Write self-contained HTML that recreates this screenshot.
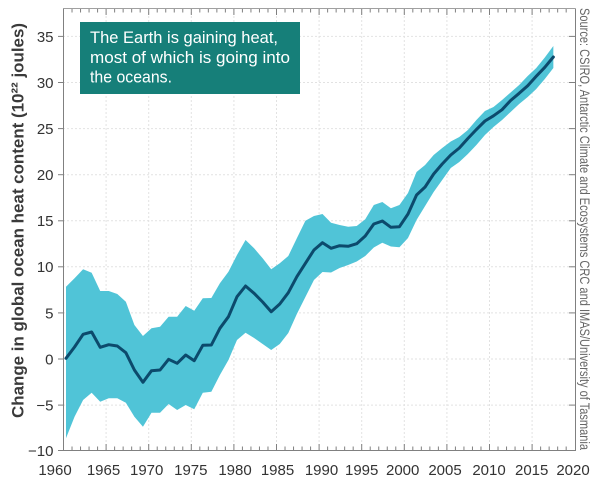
<!DOCTYPE html>
<html><head><meta charset="utf-8"><style>
html,body{margin:0;padding:0;background:#fff;}
svg{display:block;}
text{font-family:"Liberation Sans",sans-serif;}
</style></head><body>
<svg width="600" height="487" viewBox="0 0 600 487" xmlns="http://www.w3.org/2000/svg">
<rect x="0" y="0" width="600" height="487" fill="#fff"/>
<!-- grid -->
<g stroke="#e2e2e2" stroke-width="1" stroke-dasharray="2,2" fill="none">
<line x1="63" y1="405.1" x2="575" y2="405.1"/>
<line x1="63" y1="359" x2="575" y2="359"/>
<line x1="63" y1="312.9" x2="575" y2="312.9"/>
<line x1="63" y1="266.8" x2="575" y2="266.8"/>
<line x1="63" y1="220.8" x2="575" y2="220.8"/>
<line x1="63" y1="174.7" x2="575" y2="174.7"/>
<line x1="63" y1="128.6" x2="575" y2="128.6"/>
<line x1="63" y1="82.5" x2="575" y2="82.5"/>
<line x1="63" y1="36.4" x2="575" y2="36.4"/>
<line x1="106.1" y1="8" x2="106.1" y2="451"/>
<line x1="148.7" y1="8" x2="148.7" y2="451"/>
<line x1="191.3" y1="8" x2="191.3" y2="451"/>
<line x1="233.9" y1="8" x2="233.9" y2="451"/>
<line x1="276.5" y1="8" x2="276.5" y2="451"/>
<line x1="319.1" y1="8" x2="319.1" y2="451"/>
<line x1="361.7" y1="8" x2="361.7" y2="451"/>
<line x1="404.3" y1="8" x2="404.3" y2="451"/>
<line x1="446.9" y1="8" x2="446.9" y2="451"/>
<line x1="489.5" y1="8" x2="489.5" y2="451"/>
<line x1="532.1" y1="8" x2="532.1" y2="451"/>
</g>
<!-- uncertainty band -->
<polygon fill="#50c4d7" points="66,286.7 74.55,278.3 83.1,269.3 91.65,272.7 100.2,291 108.75,291 117.3,294 125.85,301.7 134.4,325 142.95,336 151.5,328.3 160.05,326.7 168.6,316.7 177.15,316.7 185.7,306 194.25,310.7 202.8,298.3 211.35,298 219.9,283.3 228.45,271.7 237,255 245.55,240 254.1,248.3 262.65,258.3 271.2,269.3 279.75,263.3 288.3,256 296.85,238.3 305.4,220.7 313.95,216 322.5,214 331.05,222.7 339.6,225 348.15,226.7 356.7,226 365.25,219.3 373.8,205 382.35,202 390.9,208.3 399.45,205 408,193 416.55,172 425.1,165 433.65,155 442.2,148 450.75,141.5 459.3,137 467.85,130 476.4,120 484.95,111 493.5,107 502.05,100 510.6,92.5 519.15,85 527.7,76 536.25,68 544.8,57.5 553.35,46 553.35,68 544.8,79 536.25,89 527.7,97 519.15,104 510.6,112 502.05,120 493.5,127 484.95,135 476.4,145 467.85,154 459.3,162 450.75,168 442.2,180 433.65,192 425.1,206 416.55,220 408,238 399.45,247.3 390.9,246.5 382.35,242.7 373.8,247.5 365.25,256 356.7,261.5 348.15,265 339.6,268 331.05,272.5 322.5,272 313.95,280 305.4,297 296.85,314 288.3,333 279.75,344 271.2,350 262.65,344 254.1,338 245.55,332.7 237,340 228.45,360 219.9,375 211.35,391.7 202.8,392.7 194.25,409.3 185.7,405 177.15,410 168.6,404 160.05,412.7 151.5,412.7 142.95,426.7 134.4,416.7 125.85,402.7 117.3,398.3 108.75,398.3 100.2,401.7 91.65,392.7 83.1,400 74.55,416.7 66,438.3"/>
<!-- central line -->
<polyline fill="none" stroke="#0c4a6c" stroke-width="3" stroke-linejoin="round" stroke-linecap="round" points="66,358.3 74.55,347 83.1,334.3 91.65,332 100.2,347.3 108.75,344.7 117.3,346 125.85,352.7 134.4,370 142.95,382.3 151.5,370.7 160.05,370 168.6,359.3 177.15,363.3 185.7,355 194.25,360.7 202.8,345.3 211.35,345 219.9,328.3 228.45,316.7 237,296.7 245.55,286 254.1,293.3 262.65,302 271.2,311.7 279.75,304 288.3,292.7 296.85,276.7 305.4,263.3 313.95,250 322.5,242.7 331.05,248.3 339.6,245.7 348.15,246.3 356.7,243.7 365.25,236 373.8,224 382.35,221 390.9,227.3 399.45,226.7 408,214 416.55,195 425.1,187 433.65,174 442.2,164 450.75,155 459.3,148 467.85,138.5 476.4,129.5 484.95,121 493.5,115.8 502.05,109.7 510.6,100.5 519.15,93.3 527.7,85.7 536.25,76.3 544.8,67.3 553.35,57"/>
<!-- axes -->
<g stroke="#808080" stroke-width="1" fill="none">
<line x1="63.5" y1="8.5" x2="63.5" y2="451"/>
<line x1="63" y1="450.5" x2="575.5" y2="450.5"/>
<line x1="575.5" y1="8.5" x2="575.5" y2="451"/>
<line x1="63" y1="8.5" x2="575.5" y2="8.5" stroke="#a0a0a0"/>
</g>
<!-- ticks -->
<g stroke="#808080" stroke-width="1">
<line x1="58" y1="450.5" x2="63" y2="450.5"/>
<line x1="58" y1="405.1" x2="63" y2="405.1"/>
<line x1="58" y1="359" x2="63" y2="359"/>
<line x1="58" y1="312.9" x2="63" y2="312.9"/>
<line x1="58" y1="266.8" x2="63" y2="266.8"/>
<line x1="58" y1="220.8" x2="63" y2="220.8"/>
<line x1="58" y1="174.7" x2="63" y2="174.7"/>
<line x1="58" y1="128.6" x2="63" y2="128.6"/>
<line x1="58" y1="82.5" x2="63" y2="82.5"/>
<line x1="58" y1="36.4" x2="63" y2="36.4"/>
<line x1="569" y1="405.1" x2="575" y2="405.1"/>
<line x1="569" y1="359" x2="575" y2="359"/>
<line x1="569" y1="312.9" x2="575" y2="312.9"/>
<line x1="569" y1="266.8" x2="575" y2="266.8"/>
<line x1="569" y1="220.8" x2="575" y2="220.8"/>
<line x1="569" y1="174.7" x2="575" y2="174.7"/>
<line x1="569" y1="128.6" x2="575" y2="128.6"/>
<line x1="569" y1="82.5" x2="575" y2="82.5"/>
<line x1="569" y1="36.4" x2="575" y2="36.4"/>
</g>
<g stroke="#808080" stroke-width="1">
<path d="M72.02 450V446.5M80.54 450V446.5M89.06 450V446.5M97.58 450V446.5M114.62 450V446.5M123.14 450V446.5M131.66 450V446.5M140.18 450V446.5M157.22 450V446.5M165.74 450V446.5M174.26 450V446.5M182.78 450V446.5M199.82 450V446.5M208.34 450V446.5M216.86 450V446.5M225.38 450V446.5M242.42 450V446.5M250.94 450V446.5M259.46 450V446.5M267.98 450V446.5M285.02 450V446.5M293.54 450V446.5M302.06 450V446.5M310.58 450V446.5M327.62 450V446.5M336.14 450V446.5M344.66 450V446.5M353.18 450V446.5M370.22 450V446.5M378.74 450V446.5M387.26 450V446.5M395.78 450V446.5M412.82 450V446.5M421.34 450V446.5M429.86 450V446.5M438.38 450V446.5M455.42 450V446.5M463.94 450V446.5M472.46 450V446.5M480.98 450V446.5M498.02 450V446.5M506.54 450V446.5M515.06 450V446.5M523.58 450V446.5M540.62 450V446.5M549.14 450V446.5M557.66 450V446.5M566.18 450V446.5"/>
<path d="M106.1 450V444M148.7 450V444M191.3 450V444M233.9 450V444M276.5 450V444M319.1 450V444M361.7 450V444M404.3 450V444M446.9 450V444M489.5 450V444M532.1 450V444"/>
<path d="M72.02 9V12.5M80.54 9V12.5M89.06 9V12.5M97.58 9V12.5M114.62 9V12.5M123.14 9V12.5M131.66 9V12.5M140.18 9V12.5M157.22 9V12.5M165.74 9V12.5M174.26 9V12.5M182.78 9V12.5M199.82 9V12.5M208.34 9V12.5M216.86 9V12.5M225.38 9V12.5M242.42 9V12.5M250.94 9V12.5M259.46 9V12.5M267.98 9V12.5M285.02 9V12.5M293.54 9V12.5M302.06 9V12.5M310.58 9V12.5M327.62 9V12.5M336.14 9V12.5M344.66 9V12.5M353.18 9V12.5M370.22 9V12.5M378.74 9V12.5M387.26 9V12.5M395.78 9V12.5M412.82 9V12.5M421.34 9V12.5M429.86 9V12.5M438.38 9V12.5M455.42 9V12.5M463.94 9V12.5M472.46 9V12.5M480.98 9V12.5M498.02 9V12.5M506.54 9V12.5M515.06 9V12.5M523.58 9V12.5M540.62 9V12.5M549.14 9V12.5M557.66 9V12.5M566.18 9V12.5"/>
<path d="M106.1 9V15M148.7 9V15M191.3 9V15M233.9 9V15M276.5 9V15M319.1 9V15M361.7 9V15M404.3 9V15M446.9 9V15M489.5 9V15M532.1 9V15"/>
</g>
<!-- y tick labels -->
<g font-size="15" fill="#333" text-anchor="end">
<text x="53.5" y="456">−10</text>
<text x="53.5" y="410.5">−5</text>
<text x="53.5" y="364.4">0</text>
<text x="53.5" y="318.3">5</text>
<text x="53.5" y="272.2">10</text>
<text x="53.5" y="226.2">15</text>
<text x="53.5" y="180.1">20</text>
<text x="53.5" y="134">25</text>
<text x="53.5" y="87.9">30</text>
<text x="53.5" y="41.8">35</text>
</g>
<!-- x tick labels -->
<g font-size="15" fill="#333" text-anchor="middle">
<text x="55" y="475">1960</text>
<text x="103.5" y="475">1965</text>
<text x="146.7" y="475">1970</text>
<text x="190.8" y="475">1975</text>
<text x="235" y="475">1980</text>
<text x="277.5" y="475">1985</text>
<text x="321.5" y="475">1990</text>
<text x="361.7" y="475">1995</text>
<text x="402.7" y="475">2000</text>
<text x="445" y="475">2005</text>
<text x="489" y="475">2010</text>
<text x="531.7" y="475">2015</text>
<text x="573" y="475">2020</text>
</g>
<!-- y axis label -->
<text transform="translate(23.5,220.5) rotate(-90)" text-anchor="middle" font-size="17" font-weight="bold" fill="#3a3a3a" textLength="395" lengthAdjust="spacingAndGlyphs">Change in global ocean heat content (10²² joules)</text>
<!-- source -->
<text transform="translate(580,229) rotate(90)" text-anchor="middle" font-size="13.5" fill="#666" textLength="442" lengthAdjust="spacingAndGlyphs">Source: CSIRO, Antarctic Climate and Ecosystems CRC and IMAS/University of Tasmania</text>
<!-- annotation box -->
<rect x="80" y="22" width="220" height="72" fill="#167f79"/>
<g font-size="17" fill="#fff">
<text x="90" y="43" textLength="188" lengthAdjust="spacingAndGlyphs">The Earth is gaining heat,</text>
<text x="90" y="63" textLength="200" lengthAdjust="spacingAndGlyphs">most of which is going into</text>
<text x="90" y="82.5" textLength="82" lengthAdjust="spacingAndGlyphs">the oceans.</text>
</g>
</svg>
</body></html>
